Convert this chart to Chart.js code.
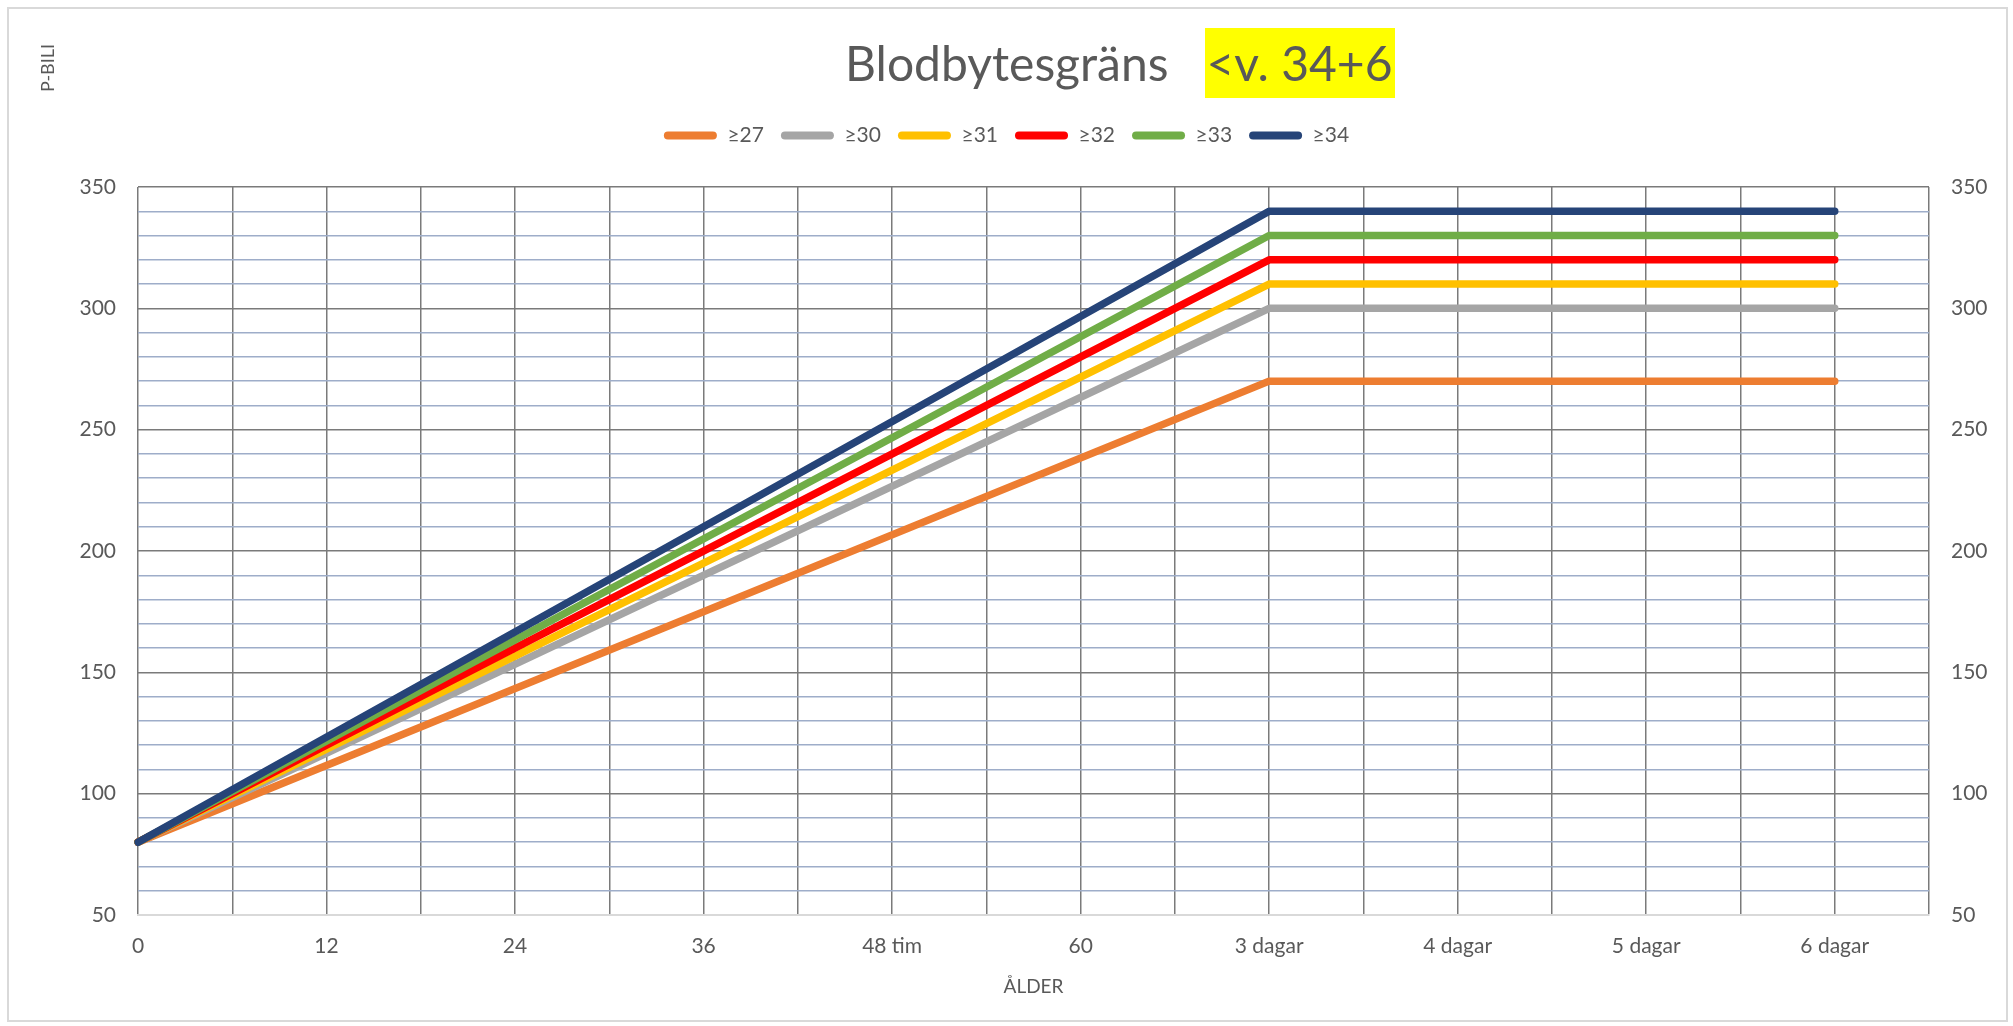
<!DOCTYPE html>
<html>
<head>
<meta charset="utf-8">
<script src="https://cdn.jsdelivr.net/npm/chart.js@4.4.1/dist/chart.umd.min.js"></script>
<style>
  html, body { margin: 0; padding: 0; background: #fff; }
  #wrap { position: relative; width: 2013px; height: 1026px; }
  #frame { position: absolute; left: 7px; top: 7px; width: 1997px; height: 1011px; border: 2px solid #d9d9d9; pointer-events: none; }
  #title { position: absolute; left: 845px; top: 28px; height: 70px; line-height: 70px; font-family: Lato, sans-serif; font-size: 48px; color: #595959; white-space: nowrap; }
  #title .hl { background: #ffff00; display: inline-block; margin-left: 36px; padding: 0 2px 0 2px; }
  #ytitle { position: absolute; left: 36px; top: 92px; font-family: Lato, sans-serif; font-size: 18px; color: #595959; transform-origin: left top; transform: rotate(-90deg); white-space: nowrap; }
</style>
</head>
<body>
<div id="wrap">
  <canvas id="chart" width="2013" height="1026"></canvas>
  <div id="title">Blodbytesgräns<span class="hl">&lt;v. 34+6</span></div>
  <div id="ytitle">P-BILI</div>
  <div id="frame"></div>
</div>
<script>
// x-kategorier (var 6:e timme), etikett varannan
const labels = ['0', '', '12', '', '24', '', '36', '', '48 tim', '', '60', '', '3 dagar', '', '4 dagar', '', '5 dagar', '', '6 dagar', ''];

// gränsvärden per gestationsvecka (start 80, platå från 3 dagar)
const v27 = [80, null, null, null, null, null, null, null, null, null, null, null, 270, null, null, null, null, null, 270, null];
const v30 = [80, null, null, null, null, null, null, null, null, null, null, null, 300, null, null, null, null, null, 300, null];
const v31 = [80, null, null, null, null, null, null, null, null, null, null, null, 310, null, null, null, null, null, 310, null];
const v32 = [80, null, null, null, null, null, null, null, null, null, null, null, 320, null, null, null, null, null, 320, null];
const v33 = [80, null, null, null, null, null, null, null, null, null, null, null, 330, null, null, null, null, null, 330, null];
const v34 = [80, null, null, null, null, null, null, null, null, null, null, null, 340, null, null, null, null, null, 340, null];

const seriesNames = ['≥27', '≥30', '≥31', '≥32', '≥33', '≥34'];
const seriesColors = ['#ED7D31', '#A5A5A5', '#FFC000', '#FF0000', '#70AD47', '#264478'];
const seriesData = [v27, v30, v31, v32, v33, v34];

const yMin = 50;
const yMax = 350;

const FONT = 'Lato, sans-serif';
const TEXT = '#595959';

const datasets = seriesData.map((d, i) => ({
  label: seriesNames[i],
  data: d,
  borderColor: seriesColors[i],
  backgroundColor: seriesColors[i],
  borderWidth: 7.5,
  borderCapStyle: 'round',
  borderJoinStyle: 'round',
  pointRadius: 0,
  spanGaps: true,
  tension: 0,
  order: seriesData.length - i   // ≥34 ritas överst
}));

const tickCb = v => (v % 50 === 0 ? v : '');

// extra luft mellan förklaring och diagramyta
const legendGap = {
  id: 'legendGap',
  afterInit(chart) {
    const fit = chart.legend.fit;
    chart.legend.fit = function () {
      fit.call(this);
      this.height += 31;
    };
  }
};

new Chart(document.getElementById('chart'), {
  type: 'line',
  data: { labels, datasets },
  plugins: [legendGap],
  options: {
    responsive: false,
    animation: false,
    devicePixelRatio: 1,
    layout: { padding: { top: 108, left: 0, right: 0, bottom: 0 } },
    plugins: {
      tooltip: { enabled: false },
      legend: {
        position: 'top',
        labels: {
          color: TEXT,
          font: { family: FONT, size: 21 },
          boxWidth: 53,
          boxHeight: 8,
          useBorderRadius: true,
          borderRadius: 4,
          padding: 17,
          sort: (a, b) => a.datasetIndex - b.datasetIndex,
          generateLabels(chart) {
            const items = Chart.defaults.plugins.legend.labels.generateLabels(chart);
            items.forEach(it => { it.lineWidth = 0; });
            return items;
          }
        }
      }
    },
    scales: {
      x: {
        type: 'category',
        offset: false,
        grid: { color: '#7a7a7a', lineWidth: 1.5, drawTicks: false },
        border: { display: true, color: '#d9d9d9', width: 2 },
        ticks: { color: TEXT, font: { family: FONT, size: 21 }, autoSkip: false, maxRotation: 0, padding: 19 },
        title: { display: true, text: 'ÅLDER', color: TEXT, font: { family: FONT, size: 19 }, padding: { top: 8, bottom: 28 } },
        afterFit: s => { s.height = 111; }
      },
      y: {
        position: 'left',
        min: yMin,
        max: yMax,
        grid: {
          drawTicks: false,
          lineWidth: 1.5,
          color: c => (c.tick.value === yMin ? '#d9d9d9' : c.tick.value % 50 === 0 ? '#7a7a7a' : '#9eadc9')
        },
        border: { display: false },
        ticks: { stepSize: 10, autoSkip: false, color: TEXT, font: { family: FONT, size: 21 }, padding: 22, callback: tickCb },
        afterFit: s => { s.width = 138; }
      },
      y2: {
        position: 'right',
        min: yMin,
        max: yMax,
        grid: { display: false, drawTicks: false },
        border: { display: false },
        ticks: { stepSize: 10, autoSkip: false, color: TEXT, font: { family: FONT, size: 21 }, padding: 22, callback: tickCb },
        afterFit: s => { s.width = 84; }
      }
    }
  }
});
</script>
</body>
</html>
